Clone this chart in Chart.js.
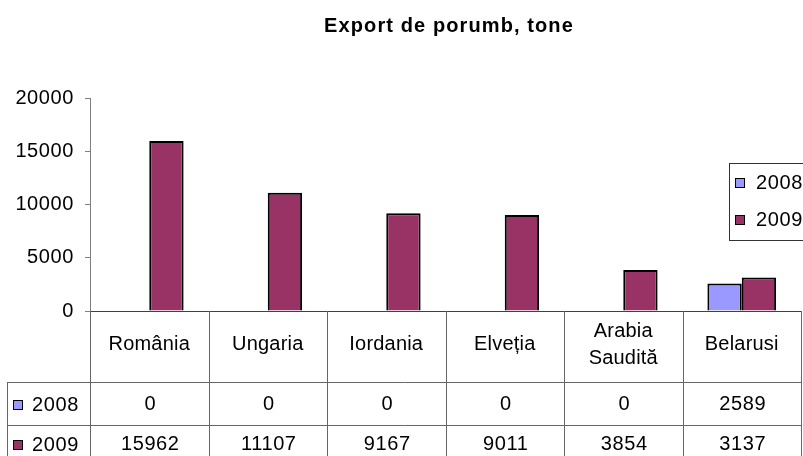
<!DOCTYPE html>
<html><head><meta charset="utf-8">
<script src="https://cdn.jsdelivr.net/npm/chart.js@4/dist/chart.umd.min.js"></script>
<style>html,body{margin:0;padding:0;background:#fff;overflow:hidden}#wrap{width:803px;height:456px}</style>
</head><body><div id="wrap"><canvas id="c" width="803" height="456"></canvas></div>
<script>
const chartTitle = 'Export de porumb, tone';
const categories = ['România', 'Ungaria', 'Iordania', 'Elveția', ['Arabia', 'Saudită'], 'Belarusi'];
const seriesNames = ['2008', '2009'];
const values2008 = [0, 0, 0, 0, 0, 2589];
const values2009 = [15962, 11107, 9167, 9011, 3854, 3137];
const yTickValues = [0, 5000, 10000, 15000, 20000];
const seriesColors = ['#9999FF', '#993366'];

const FONT = "'Liberation Sans', Arial, sans-serif";
const seriesValues = [values2008, values2009];

const excelTable = {
  id: 'excelTable',
  beforeDraw(chart) {
    chart.ctx.letterSpacing = '0.6px';
  },
  afterDraw(chart) {
    const ctx = chart.ctx;
    const xs = chart.scales.x, ys = chart.scales.y;
    const area = chart.chartArea;
    const H = chart.height;
    const zeroY = ys.getPixelForValue(0);
    const step = xs.getPixelForValue(1) - xs.getPixelForValue(0);
    const row1 = zeroY + 71, row2 = zeroY + 114;
    const tableLeft = 7;
    ctx.save();
    ctx.strokeStyle = '#666';
    ctx.lineWidth = 1;
    ctx.beginPath();
    for (let i = 0; i <= categories.length; i++) {
      const x = Math.round(xs.getPixelForValue(0) - step / 2 + i * step) + 0.5;
      ctx.moveTo(x, zeroY); ctx.lineTo(x, H);
    }
    ctx.moveTo(tableLeft + 0.5, row1); ctx.lineTo(tableLeft + 0.5, H);
    ctx.moveTo(tableLeft, Math.round(row1) + 0.5); ctx.lineTo(area.right + 1, Math.round(row1) + 0.5);
    ctx.moveTo(tableLeft, Math.round(row2) + 0.5); ctx.lineTo(area.right + 1, Math.round(row2) + 0.5);
    ctx.stroke();

    ctx.fillStyle = '#000';
    ctx.font = '20px ' + FONT;
    ctx.letterSpacing = '0.2px';
    ctx.textAlign = 'center';
    ctx.textBaseline = 'middle';
    categories.forEach((c, i) => {
      const cx = xs.getPixelForValue(i);
      if (Array.isArray(c)) {
        ctx.fillText(c[0], cx, zeroY + 20);
        ctx.fillText(c[1], cx, zeroY + 47);
      } else {
        ctx.fillText(c, cx, zeroY + 33);
      }
    });
    ctx.letterSpacing = '0.6px';
    const rowCenters = [zeroY + 93, zeroY + 133];
    seriesValues.forEach((vals, s) => {
      vals.forEach((v, i) => {
        ctx.fillText(String(v), xs.getPixelForValue(i) + 1, rowCenters[s]);
      });
      ctx.fillStyle = seriesColors[s];
      ctx.fillRect(13.5, rowCenters[s] - 3.5, 9, 9);
      ctx.strokeStyle = '#000';
      ctx.strokeRect(13.5, rowCenters[s] - 3.5, 9, 9);
      ctx.fillStyle = '#000';
      ctx.textAlign = 'left';
      ctx.fillText(seriesNames[s], 32, rowCenters[s] + 1);
      ctx.textAlign = 'center';
    });

    ctx.strokeStyle = '#333';
    ctx.strokeRect(729.5, 163.5, 90, 77);
    const legY = [183, 220];
    seriesNames.forEach((n, s) => {
      ctx.fillStyle = seriesColors[s];
      ctx.fillRect(735.5, legY[s] - 4.5, 9, 9);
      ctx.strokeStyle = '#000';
      ctx.strokeRect(735.5, legY[s] - 4.5, 9, 9);
      ctx.fillStyle = '#000';
      ctx.textAlign = 'left';
      ctx.fillText(n, 756, legY[s]);
    });

    ctx.font = 'bold 20px ' + FONT;
    ctx.letterSpacing = '1.1px';
    ctx.textAlign = 'center';
    ctx.fillText(chartTitle, 449, 26);
    ctx.restore();
  }
};

new Chart(document.getElementById('c'), {
  type: 'bar',
  data: {
    labels: categories,
    datasets: seriesNames.map((n, s) => ({
      label: n,
      data: seriesValues[s],
      backgroundColor: seriesColors[s],
      borderColor: '#000',
      borderWidth: 2,
      borderSkipped: 'bottom',
      categoryPercentage: 0.58,
      barPercentage: 1
    }))
  },
  options: {
    responsive: false,
    animation: false,
    devicePixelRatio: 1,
    layout: { padding: { top: 98, right: 2, left: 0, bottom: 0 } },
    plugins: { legend: { display: false }, title: { display: false }, tooltip: { enabled: false } },
    scales: {
      x: {
        grid: { display: false },
        ticks: { display: false },
        border: { display: true, color: '#404040', width: 1 },
        afterFit(scale) { scale.height = 145; }
      },
      y: {
        min: 0, max: 20000,
        afterBuildTicks(scale) { scale.ticks = yTickValues.map(v => ({ value: v })); },
        ticks: {
          color: '#000',
          font: { family: FONT, size: 20 },
          padding: 11,
          callback: v => String(v)
        },
        grid: { display: true, drawOnChartArea: false, drawTicks: true, tickLength: 5, color: '#808080' },
        border: { display: true, color: '#808080', width: 1 },
        afterFit(scale) { scale.width = 90; }
      }
    }
  },
  plugins: [excelTable]
});
</script>
</body></html>
